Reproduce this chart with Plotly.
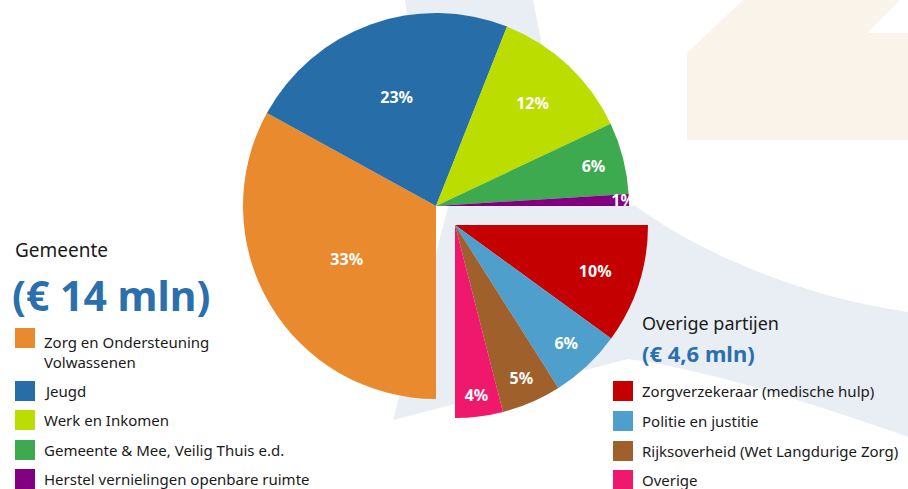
import plotly.graph_objects as go

W, H = 908, 489

# ---------------- data ----------------
gemeente_labels = ["Zorg en Ondersteuning<br>Volwassenen", "Jeugd", "Werk en Inkomen",
                   "Gemeente & Mee, Veilig Thuis e.d.", "Herstel vernielingen openbare ruimte"]
gemeente_values = [33, 23, 12, 6, 1]
gemeente_colors = ["#EA8A2E", "#276DA8", "#BCDD00", "#3DAA50", "#820080"]

overige_labels = ["Zorgverzekeraar (medische hulp)", "Politie en justitie",
                  "Rijksoverheid (Wet Langdurige Zorg)", "Overige"]
overige_values = [10, 6, 5, 4]
overige_colors = ["#C40000", "#4F9FCC", "#A0602C", "#F0186C"]

gemeente_title = "Gemeente"
gemeente_total = "(€ 14 mln)"
overige_title = "Overige partijen"
overige_total = "(€ 4,6 mln)"

# ---------------- helpers ----------------
def px(x):
    return x / W

def py(y):
    return 1 - y / H

FONT = "Noto Sans"
TITLE_BLUE = "#2B6FAD"
TXT = "#1A1A1A"
CLEAR = "rgba(0,0,0,0)"

all_labels = gemeente_labels + overige_labels
all_values = gemeente_values + overige_values
n_g, n_o = len(gemeente_values), len(overige_values)


def pie_trace(colors, templates, cx, cy, r):
    return go.Pie(
        labels=all_labels, values=all_values, sort=False,
        direction="clockwise", rotation=180,
        marker=dict(colors=colors, line=dict(width=0)),
        texttemplate=templates, textposition="inside",
        insidetextorientation="horizontal",
        insidetextfont=dict(color="white", size=16, family=FONT, weight="bold"),
        domain=dict(x=[px(cx - r), px(cx + r)], y=[py(cy + r), py(cy - r)]),
        showlegend=False, hoverinfo="skip",
    )


fig = go.Figure()
fig.add_trace(pie_trace(gemeente_colors + [CLEAR] * n_o,
                        ["%{value}%"] * n_g + [""] * n_o, 436, 206, 193))
fig.add_trace(pie_trace([CLEAR] * n_g + overige_colors,
                        [""] * n_g + ["%{value}%"] * n_o, 455, 225, 193))

shapes = []


def pt(x, y):
    return f"{px(x):.5f},{py(y):.5f}"


def path_from(cmds):
    out = []
    for cmd, pts in cmds:
        if cmd == "C":
            out.append("C " + " ".join(pt(x, y) for x, y in pts))
        else:
            for x, y in pts:
                out.append(f"{cmd} {pt(x, y)}")
                cmd = "L" if cmd == "M" else cmd
    return " ".join(out) + " Z"


# background swoosh (light grey-blue)
swoosh = path_from([
    ("M", [(405, 0)]),
    ("L", [(533, 0), (545, 60), (600, 150), (628, 200)]),
    ("C", [(685, 245), (790, 295), (908, 312)]),
    ("L", [(908, 437)]),
    ("C", [(820, 405), (700, 368), (628, 359)]),
    ("L", [(393, 420), (448, 207), (420, 100)]),
])
shapes.append(dict(type="path", path=swoosh, xref="paper", yref="paper",
                   fillcolor="#E9EEF5", line=dict(width=0), layer="below"))

# cream decoration top right
cream = path_from([
    ("M", [(687, 53)]),
    ("L", [(743, 0), (900, 0), (867, 33), (908, 33), (908, 140), (687, 140)]),
])
shapes.append(dict(type="path", path=cream, xref="paper", yref="paper",
                   fillcolor="#FAF3E9", line=dict(width=0), layer="below"))

annotations = []


def text(x, y, s, size, color=TXT, weight="normal", yanchor="middle"):
    annotations.append(dict(x=px(x), y=py(y), xref="paper", yref="paper", text=s,
                            showarrow=False, xanchor="left", yanchor=yanchor, align="left",
                            font=dict(family=FONT, size=size, color=color, weight=weight)))


def legend_block(x_sq, x_txt, rows, labels, colors):
    for (yc, ytxt, anchor), lab, col in zip(rows, labels, colors):
        shapes.append(dict(type="rect", xref="paper", yref="paper",
                           x0=px(x_sq), x1=px(x_sq + 20), y0=py(yc + 10), y1=py(yc - 10),
                           fillcolor=col, line=dict(width=0)))
        text(x_txt, ytxt, lab, 15, yanchor=anchor)


# left block
text(13, 250, gemeente_title, 19)
text(10, 295, gemeente_total, 41, color=TITLE_BLUE, weight="bold")
legend_block(15, 42,
             [(338, 330, "top"), (391, 391, "middle"), (420, 420, "middle"),
              (450, 450, "middle"), (479, 479, "middle")],
             gemeente_labels, gemeente_colors)

# right block
text(640, 323, overige_title, 18)
text(640, 353, overige_total, 22, color=TITLE_BLUE, weight="bold")
legend_block(613, 640,
             [(391, 391, "middle"), (421, 421, "middle"), (451, 451, "middle"),
              (480, 480, "middle")],
             overige_labels, overige_colors)

fig.update_layout(
    width=W, height=H, margin=dict(l=0, r=0, t=0, b=0),
    paper_bgcolor="white", plot_bgcolor="white",
    shapes=shapes, annotations=annotations,
    uniformtext=dict(minsize=16, mode="show"),
    font=dict(family=FONT),
)

fig.write_html("out.html")
